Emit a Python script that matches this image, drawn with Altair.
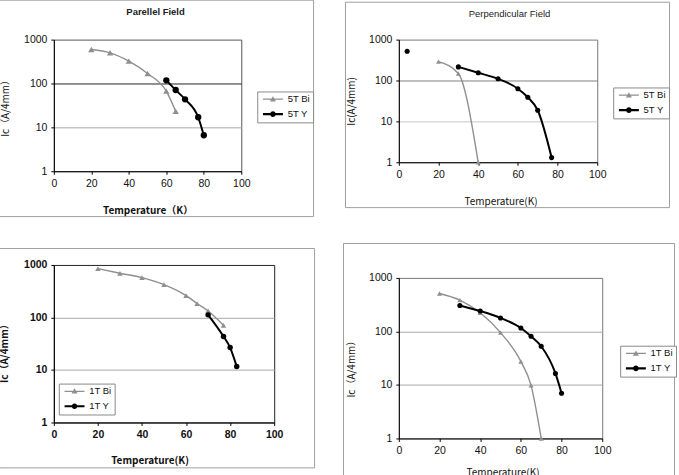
import altair as alt
import pandas as pd

# ---------------- data ----------------
# Panel 1: Parellel Field, 5T
p1_bi_T = [20, 30, 40, 50, 60, 65]
p1_bi_Ic = [593, 499, 323, 169, 67, 23.3]
p1_y_T = [60, 65, 70, 77, 80]
p1_y_Ic = [118, 71, 43.6, 17.0, 6.6]
p1_y_seg = [0, 0, 0, 0, 0]

# Panel 2: Perpendicular Field, 5T
p2_bi_T = [20, 30, 40]
p2_bi_Ic = [290, 148, 1.0]
p2_y_T = [4.2, 30, 40, 50, 60, 65, 70, 77]
p2_y_Ic = [520, 215, 154, 110, 63, 38.8, 18.7, 1.3]
p2_y_seg = [0, 1, 1, 1, 1, 1, 1, 1]

# Panel 3: 1T
p3_bi_T = [20, 30, 40, 50, 60, 65, 70, 77]
p3_bi_Ic = [851, 694, 574, 422, 261, 184, 133, 71]
p3_y_T = [70, 77, 80, 83]
p3_y_Ic = [112, 43.4, 26.7, 11.6]
p3_y_seg = [0, 0, 0, 0]

# Panel 4: 1T
p4_bi_T = [20, 30, 40, 50, 60, 65, 70]
p4_bi_Ic = [512, 385, 223, 95, 27.4, 9.8, 1.0]
p4_y_T = [30, 40, 50, 60, 65, 70, 77, 80]
p4_y_Ic = [306, 240, 178, 116, 81, 52.8, 16.4, 7.0]
p4_y_seg = [0, 0, 0, 0, 0, 0, 0, 0]

x_ticks = [0, 20, 40, 60, 80, 100]
y_ticks = [1, 10, 100, 1000]

GRAY = "#8f8f8f"
BLACK = "#000000"
LATIN = "Liberation Sans"
CJK = "Noto Sans CJK JP"

# legend symbols: a short line with the marker in the middle (custom paths)
TRI_PATH = "M-1,-0.3H9V0.3H-1Z M4,-1.5L5.5,1.1L2.5,1.1Z"
CIR_PATH = "M-1,-0.55H9V0.55H-1Z M5.4,0A1.4,1.4,0,1,1,2.6,0A1.4,1.4,0,1,1,5.4,0Z"


def value_rect(x0, y0, x1, y1, stroke):
    return alt.Chart(pd.DataFrame({"k": [0]})).mark_rect(
        fill="transparent", stroke=stroke, strokeWidth=1
    ).encode(x=alt.value(x0), x2=alt.value(x1), y=alt.value(y0), y2=alt.value(y1))


def panel(bi_T, bi_Ic, y_T, y_Ic, y_seg, names, g):
    ox, oy, w, h = g["plot"]
    bi = pd.DataFrame({"T": bi_T, "Ic": bi_Ic, "series": names[0]})
    yy = pd.DataFrame({"T": y_T, "Ic": y_Ic, "series": names[1], "seg": y_seg})
    both = pd.concat([bi, yy], ignore_index=True)

    bold = g.get("bold", "normal")
    tbold = g.get("tbold", bold)
    ybold = g.get("ybold", tbold)
    x_enc = alt.X(
        "T:Q",
        scale=alt.Scale(domain=[0, 100], nice=False),
        axis=alt.Axis(
            values=x_ticks, grid=False, tickSize=3, tickColor="#000", domainColor="#000",
            labelPadding=4, labelFlush=False, labelOverlap=False,
            labelFont=LATIN, labelFontSize=10.5, labelColor="#111", labelFontWeight=bold,
            title=g["xtitle"], titleFont=CJK, titleFontSize=10, titleFontWeight=tbold,
            titleColor="#111", titleX=g["xtx"], titleY=g["xty"], titleBaseline="middle",
            titleAnchor="middle",
        ),
    )
    y_enc = alt.Y(
        "Ic:Q",
        scale=alt.Scale(type="log", domain=[1, 1000], nice=False),
        axis=alt.Axis(
            values=y_ticks, format="d", grid=True,
            gridColor={"condition": {"test": "datum.value === 100", "value": g["grid100"]},
                       "value": g["grid10"]},
            gridOpacity={"condition": {"test": "datum.value === 1 || datum.value === 1000",
                                       "value": 0}, "value": 1},
            tickSize=3, tickColor="#000", domainColor="#000",
            labelPadding=4, labelOverlap=False,
            labelFont=LATIN, labelFontSize=10.5, labelColor="#111", labelFontWeight=bold,
            title=g["ytitle"], titleFont=CJK, titleFontSize=10, titleFontWeight=ybold,
            titleColor="#111", titleX=g["ytx"], titleY=h / 2 + g.get("yty", 0),
            titleBaseline="middle", titleAngle=270,
        ),
    )

    cx0, cy0, cx1, cy1 = g["cell"]
    fx0, fy0, fx1, fy1 = g["frame"]
    cell = value_rect(cx0 - ox, cy0 - oy, cx1 - ox, cy1 - oy, "transparent")
    frame = value_rect(fx0 - ox, fy0 - oy, fx1 - ox, fy1 - oy, "#a0a0a0")

    bi_line = alt.Chart(bi).mark_line(color=GRAY, strokeWidth=1.4, interpolate="monotone").encode(
        x=x_enc, y=y_enc)
    bi_pts = alt.Chart(bi).mark_point(shape="triangle-up", filled=True, color=GRAY, opacity=1,
                                      size=g.get("msize", 32)).encode(x=x_enc, y=y_enc)
    y_line = alt.Chart(yy).mark_line(color=BLACK, strokeWidth=2, interpolate="monotone").encode(
        x=x_enc, y=y_enc, detail="seg:N")
    y_pts = alt.Chart(yy).mark_point(shape="circle", filled=True, color=BLACK, opacity=1,
                                     size=g.get("msize", 32)).encode(x=x_enc, y=y_enc)

    lx, ly = g["legend"]
    leg = alt.Legend(
        title=None, orient="none", legendX=lx - ox, legendY=ly - oy,
        symbolSize=16, labelOffset=18, strokeColor="#8a8a8a", fillColor="#ffffff",
        padding=3, rowPadding=4, labelFont=LATIN, labelFontSize=9.5, labelColor="#111",
        symbolStrokeWidth=0,
    )
    # legend-only layer: no rows are drawn, the legend comes from the explicit domains
    legend_layer = alt.Chart(both).transform_filter("false").mark_point(filled=True, opacity=1).encode(
        x=x_enc, y=y_enc,
        color=alt.Color("series:N", scale=alt.Scale(domain=names, range=[GRAY, BLACK]), legend=leg),
        shape=alt.Shape("series:N", scale=alt.Scale(domain=names, range=[TRI_PATH, CIR_PATH]),
                        legend=leg),
    )

    layers = [cell, frame, bi_line, y_line, bi_pts, y_pts, legend_layer]
    if "title" in g:
        tx, ty = g["tpos"]
        layers.append(
            alt.Chart(pd.DataFrame({"k": [0]})).mark_text(
                text=g["title"], font=LATIN, fontSize=9.5, fontWeight=g["tweight"],
                color="#222", align="center", baseline="middle",
            ).encode(x=alt.value(tx - ox), y=alt.value(ty - oy))
        )
    props = dict(width=w, height=h, view=alt.ViewBackground(stroke=g["border"], strokeWidth=1))
    return alt.layer(*layers).properties(**props)


g1 = dict(plot=(55, 40, 188, 132), cell=(0, 0, 330, 236), frame=(0.5, 0.5, 315.5, 217.5),
          xtitle="Temperature（K）", ytitle="Ic（A/4mm）", xtx=94, xty=39, ytx=-48,
          grid100="#222222", grid10="#a8a8a8", border="#555555", legend=(259, 92),
          title="Parellel Field", tpos=(157, 12), tweight="bold", tbold="bold", ybold="normal",
          msize=40)
g2 = dict(plot=(399, 41, 199, 123), cell=(330, 0, 679, 236), frame=(345.5, 3.5, 670.5, 209.5),
          xtitle="Temperature(K)", ytitle="Ic(A/4mm)", xtx=102, xty=39, ytx=-47,
          grid100="#808080", grid10="#c8c8c8", border="#777777", legend=(614, 89),
          title="Perpendicular Field", tpos=(510, 15), tweight="normal", msize=26)
g3 = dict(plot=(55, 264, 221, 158), cell=(0, 236, 330, 490), frame=(0.5, 247.5, 316.5, 467.5),
          xtitle="Temperature(K)", ytitle="Ic（A/4mm）", xtx=96, xty=38, ytx=-49, yty=7,
          grid100="#a8a8a8", grid10="#a8a8a8", border="#222222", legend=(60, 383),
          bold="bold", msize=30)
g4 = dict(plot=(399, 278, 204, 161), cell=(330, 236, 679, 490), frame=(343.5, 243.5, 675.5, 489),
          xtitle="Temperature(K)", ytitle="Ic（A/4mm）", xtx=104, xty=34, ytx=-47, yty=8,
          grid100="#a8a8a8", grid10="#a8a8a8", border="#777777", legend=(621, 346), msize=26)

p1 = panel(p1_bi_T, p1_bi_Ic, p1_y_T, p1_y_Ic, p1_y_seg, ["5T Bi", "5T Y"], g1)
p2 = panel(p2_bi_T, p2_bi_Ic, p2_y_T, p2_y_Ic, p2_y_seg, ["5T Bi", "5T Y"], g2)
p3 = panel(p3_bi_T, p3_bi_Ic, p3_y_T, p3_y_Ic, p3_y_seg, ["1T Bi", "1T Y"], g3)
p4 = panel(p4_bi_T, p4_bi_Ic, p4_y_T, p4_y_Ic, p4_y_seg, ["1T Bi", "1T Y"], g4)

left = alt.vconcat(p1, p3, spacing=0).resolve_scale(color="independent", shape="independent")
right = alt.vconcat(p2, p4, spacing=0).resolve_scale(color="independent", shape="independent")
chart = alt.hconcat(left, right, spacing=0).properties(
    padding={"left": -2, "top": -3, "right": 0, "bottom": 0}, background="white")

chart.save("out.html", embed_options={"renderer": "svg", "actions": False})
